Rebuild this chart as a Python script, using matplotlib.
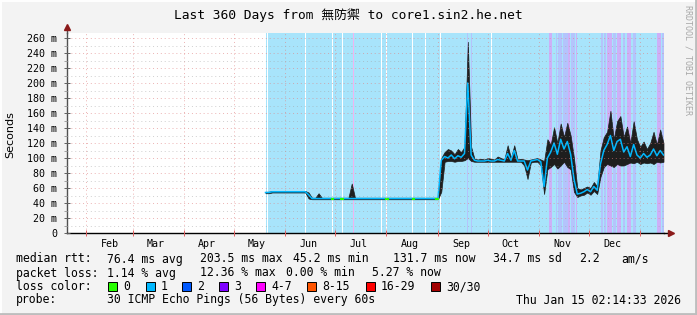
import matplotlib
matplotlib.use("Agg")
import matplotlib.pyplot as plt
from matplotlib.lines import Line2D
from matplotlib.patches import Rectangle
import numpy as np
import pandas as pd

# time axis: 360 days ending Thu Jan 15 02:14:33 2026
start = pd.Timestamp("2025-01-20 02:14:33")
span_days = 360

# samples every 2 days from day 120 (May 20) to day 360
sample_day = np.arange(120, 361, 2)

median_ms = [54, 54, 55, 55, 55, 55, 55, 55, 55, 55, 55, 55, 55,
             51,
             46, 46, 46, 46, 46, 46, 46, 46, 46, 46, 46, 46, 46, 46, 46, 46, 46, 46, 46, 46,
             46, 46, 46, 46, 46, 46, 46, 46, 46, 46, 46, 46, 46, 46, 46, 46, 46, 46, 46,
             97,
             102, 100, 104, 99, 103, 101, 106,
             200,
             104,
             97, 96, 96, 96, 97, 96, 96, 98, 97, 96,
             106, 97, 110, 96, 96, 96, 84, 96, 97, 98, 95, 62, 100,
             108, 120, 105, 125, 112, 122, 105,
             72, 52,
             53, 55, 58, 55, 62, 57,
             92,
             110, 118, 130, 110, 122, 125, 108,
             115, 102, 118, 104, 100, 106, 101, 104, 112, 103, 110, 104]

smoke_hi = [55, 55, 56, 56, 56, 56, 56, 56, 56, 56, 56, 56, 56,
            54,
            47, 47, 53, 47, 47, 47, 47, 47, 47, 47, 47, 47, 66, 47, 47, 47, 47, 47, 47, 47,
            47, 47, 47, 47, 47, 47, 47, 47, 47, 47, 47, 47, 47, 47, 47, 47, 47, 47, 47,
            100,
            108, 112, 110, 105, 112, 108, 115,
            255,
            115,
            99, 98, 99, 98, 100, 99, 98, 102, 100, 98,
            117, 100, 117, 98, 99, 98, 97, 98, 99, 100, 98, 96, 125,
            118, 141, 120, 146, 128, 147, 130,
            100, 60,
            58, 60, 62, 60, 68, 62,
            110,
            128, 135, 163, 125, 149, 156, 128,
            142, 120, 149, 125, 115, 122, 112, 120, 135, 118, 138, 120]

smoke_lo = [53, 53, 54, 54, 54, 54, 54, 54, 54, 54, 54, 54, 54,
            46,
            45, 45, 45, 45, 45, 45, 45, 45, 45, 45, 45, 45, 45, 45, 45, 45, 45, 45, 45, 45,
            45, 45, 45, 45, 45, 45, 45, 45, 45, 45, 45, 45, 45, 45, 45, 45, 45, 45, 45,
            55,
            95, 96, 96, 95, 96, 96, 97,
            100,
            96,
            95, 95, 95, 95, 95, 95, 95, 95, 95, 95,
            95, 95, 95, 95, 95, 90, 72, 94, 95, 95, 90, 52, 85,
            88, 92, 86, 90, 95, 88, 85,
            55, 48,
            50, 51, 54, 51, 56, 52,
            75,
            88, 92, 90, 88, 92, 90, 90,
            92, 94, 93, 95, 92, 94, 93, 94, 92, 95, 94, 95]

# loss background bands (day offsets)
data_from = 120.6
loss0_days = [121.0, 144.0, 160.5, 166.2, 190.1, 193.1, 208.8, 216.5, 225.3, 256.3]
loss2_spans = [(241.3, 241.9), (243.9, 244.5), (294.9, 295.8), (296.4, 298.6),
               (299.4, 302.4), (304.2, 305.4), (305.7, 306.6), (322.1, 323.3),
               (324.1, 325.3), (329.5, 331.4), (335.6, 336.8), (341.6, 343.4),
               (359.0, 360.0)]
loss3_spans = [(291.0, 292.6), (302.4, 303.6), (307.2, 307.8), (325.9, 329.0),
               (331.9, 334.4), (338.0, 340.4), (356.1, 358.5)]
loss4_days = [173.0]
green_days = [160.5, 166.2, 193.1, 209.2, 223.5]

legend_labels = ["0", "1", "2", "3", "4-7", "8-15", "16-29", "30/30"]
legend_colors = ["#26ff00", "#00b8ff", "#0059ff", "#7e00ff", "#ff00ff",
                 "#ff5500", "#ff0000", "#a10000"]

rtt_fields = ["median rtt:", "76.4 ms avg", "203.5 ms max", "45.2 ms min",
              "131.7 ms now", "34.7 ms sd", "2.2", "am/s"]
loss_fields = ["packet loss:", "1.14 % avg", "12.36 % max", "0.00 % min", "5.27 % now"]
probe_fields = ["probe:", "30 ICMP Echo Pings (56 Bytes) every 60s"]
stamp = "Thu Jan 15 02:14:33 2026"

W, H = 697, 315
mono = ["DejaVu Sans Mono", "Noto Sans CJK TC"]


def fpos(x, y):
    return x / W, 1 - y / H


fig = plt.figure(figsize=(W / 100, H / 100), dpi=100, facecolor="#f3f3f3")
ax = fig.add_axes([66.5 / W, 82 / H, 597 / W, 200 / H])
ax.set_facecolor("white")

# background bands
ax.axvspan(data_from, span_days, color="#a8e4fb", lw=0, zorder=0.5)
for d in loss0_days:
    ax.axvspan(d - 0.35, d + 0.35, color="white", lw=0, zorder=0.6)
for a, b in loss2_spans:
    ax.axvspan(a, b, color="#b4c4fc", lw=0, zorder=0.6)
for a, b in loss3_spans:
    ax.axvspan(a, b, color="#cdb0f8", lw=0, zorder=0.6)
for d in loss4_days:
    ax.axvspan(d - 0.35, d + 0.35, color="#f0b4f0", lw=0, zorder=0.6)

# smoke and median
ax.fill_between(sample_day, smoke_lo, smoke_hi, color="#1e1e1e", lw=0.5,
                edgecolor="#1e1e1e", zorder=1)
ax.plot(sample_day, median_ms, color="#00b8ff", lw=1.1, zorder=1.5)
for d in green_days:
    yv = np.interp(d, sample_day, median_ms)
    ax.plot([d - 0.5, d + 0.5], [yv, yv], color="#26ff00", lw=1.5, zorder=1.6)

ax.set_xlim(0, span_days)
ax.set_ylim(0, 266.7)

# month grid
month_starts = pd.date_range("2025-02-01", "2026-01-01", freq="MS")
month_pos = [(m - start).total_seconds() / 86400 for m in month_starts]
mid_months = pd.date_range("2025-02-01", "2025-12-01", freq="MS") + pd.Timedelta(days=14)
mid_pos = [(m - start).total_seconds() / 86400 for m in mid_months]
ax.set_xticks(month_pos)
ax.set_xticklabels([])
ax.set_xticks(mid_pos, minor=True)
ax.set_xticklabels([m.strftime("%b") for m in mid_months], minor=True,
                   fontsize=7.2, family="DejaVu Sans Mono")
ax.tick_params(axis="x", which="major", direction="inout", length=4,
               color="#e06060", width=0.7)
ax.tick_params(axis="x", which="minor", length=0, pad=4)

ax.set_yticks(np.arange(0, 261, 20))
ax.set_yticks(np.arange(10, 261, 20), minor=True)
ax.set_yticklabels(["0"] + [f"{v} m" for v in range(20, 261, 20)],
                   fontsize=7.2, family="DejaVu Sans Mono")
ax.tick_params(axis="y", which="major", direction="inout", length=5,
               color="#606060", width=0.7, pad=4)
ax.tick_params(axis="y", which="minor", direction="out", length=2,
               color="#a0a0a0", width=0.7)

ax.set_axisbelow(False)
ax.grid(axis="y", which="major", color="#e08080", alpha=0.6, lw=0.7,
        linestyle=(0, (1, 3)), zorder=2)
ax.grid(axis="y", which="minor", color="#a0a0a0", alpha=0.5, lw=0.7,
        linestyle=(0, (1, 3)), zorder=2)
ax.grid(axis="x", which="major", color="#e08080", alpha=0.6, lw=0.7,
        linestyle=(0, (1, 3)), zorder=2)

for s in ["top", "right"]:
    ax.spines[s].set_visible(False)
ax.spines["left"].set_color("#505050")
ax.spines["left"].set_linewidth(1.0)
ax.spines["bottom"].set_color("black")
ax.spines["bottom"].set_linewidth(1.0)

# axis arrows
ax.plot([0, 0], [1, 1.03], color="#505050", lw=1.0, transform=ax.transAxes, clip_on=False)
ax.plot([0], [1.03], marker="^", color="#8b1a1a", ms=4.5, transform=ax.transAxes, clip_on=False)
ax.plot([1, 1.01], [0, 0], color="black", lw=1.0, transform=ax.transAxes, clip_on=False)
ax.plot([1.012], [0], marker=">", color="#8b1a1a", ms=4.5, transform=ax.transAxes, clip_on=False)

# titles
fig.text(*fpos(348, 15), "Last 360 Days from 無防禦 to core1.sin2.he.net",
         ha="center", va="center", fontsize=9.3, family=mono)
fig.text(*fpos(10, 135), "Seconds", ha="center", va="center", rotation=90,
         fontsize=8, family="DejaVu Sans")
fig.text(*fpos(688, 60), "RRDTOOL / TOBI OETIKER", ha="center", va="center",
         rotation=270, fontsize=6, family="DejaVu Sans Mono", color="#a8a8a8")

# legend rows
fs = 8.3
for txt, x in zip(rtt_fields, [16, 107, 200, 293, 393, 493, 579, 621]):
    fig.text(*fpos(x, 259), txt, ha="left", va="center", fontsize=fs, family=mono)
for txt, x in zip(loss_fields, [16, 107, 200, 286, 372]):
    fig.text(*fpos(x, 273), txt, ha="left", va="center", fontsize=fs, family=mono)
fig.text(*fpos(16, 287), "loss color:", ha="left", va="center", fontsize=fs, family=mono)
for lab, col, bx in zip(legend_labels, legend_colors, [108, 146, 182, 219, 256, 307, 366, 431]):
    fig.patches.append(Rectangle(fpos(bx, 291), 9 / W, 9 / H, transform=fig.transFigure,
                                 facecolor=col, edgecolor="black", lw=0.7))
    fig.text(*fpos(bx + 15, 287), lab, ha="left", va="center", fontsize=fs, family=mono)
for txt, x in zip(probe_fields, [16, 107]):
    fig.text(*fpos(x, 300), txt, ha="left", va="center", fontsize=fs, family=mono)
fig.text(*fpos(681, 300), stamp, ha="right", va="center", fontsize=fs, family=mono)

# 3d frame
fig.lines.append(Line2D([0, 1], [1 - 0.5 / H, 1 - 0.5 / H], color="white", lw=1.4, transform=fig.transFigure))
fig.lines.append(Line2D([0.5 / W, 0.5 / W], [0, 1], color="white", lw=1.4, transform=fig.transFigure))
fig.lines.append(Line2D([1 - 1 / W, 1 - 1 / W], [0, 1], color="#bdbdbd", lw=2, transform=fig.transFigure))
fig.lines.append(Line2D([0, 1], [1 / H, 1 / H], color="#bdbdbd", lw=2, transform=fig.transFigure))

fig.savefig("out.png", dpi=100, facecolor=fig.get_facecolor())
